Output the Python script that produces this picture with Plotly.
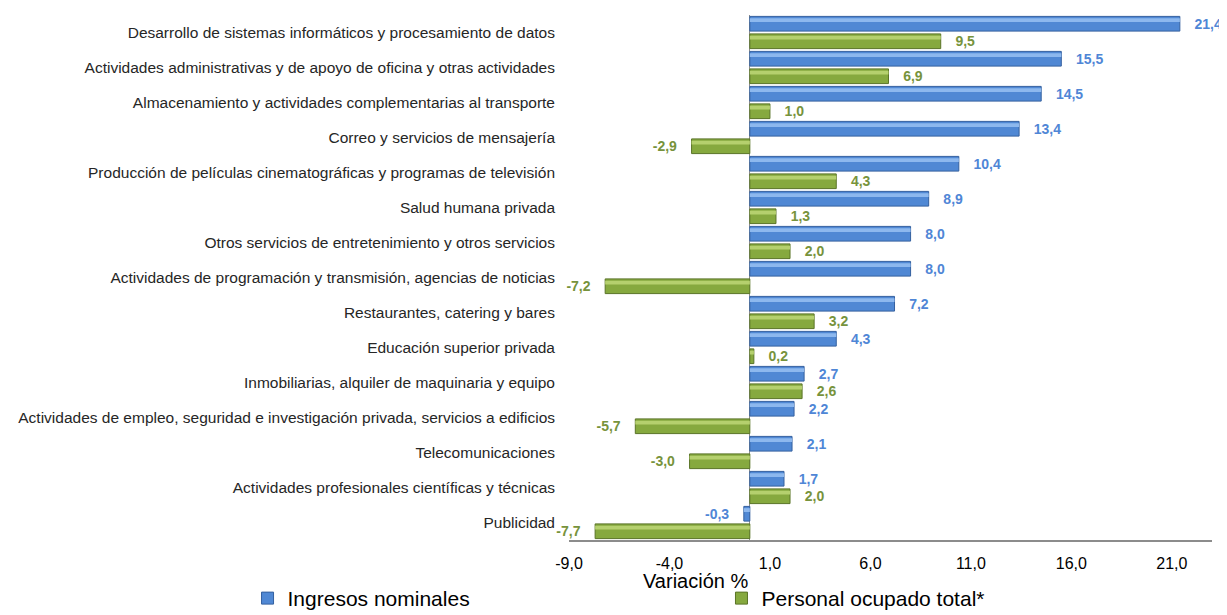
import plotly.graph_objects as go

categories = [
    "Desarrollo de sistemas informáticos y procesamiento de datos",
    "Actividades administrativas y de apoyo de oficina y otras actividades",
    "Almacenamiento y actividades complementarias al transporte",
    "Correo y servicios de mensajería",
    "Producción de películas cinematográficas y programas de televisión",
    "Salud humana privada",
    "Otros servicios de entretenimiento y otros servicios",
    "Actividades de programación y transmisión, agencias de noticias",
    "Restaurantes, catering y bares",
    "Educación superior privada",
    "Inmobiliarias, alquiler de maquinaria y equipo",
    "Actividades de empleo, seguridad e investigación privada, servicios a edificios",
    "Telecomunicaciones",
    "Actividades profesionales científicas y técnicas",
    "Publicidad",
]
ingresos = [21.4, 15.5, 14.5, 13.4, 10.4, 8.9, 8.0, 8.0, 7.2, 4.3, 2.7, 2.2, 2.1, 1.7, -0.3]
personal = [9.5, 6.9, 1.0, -2.9, 4.3, 1.3, 2.0, -7.2, 3.2, 0.2, 2.6, -5.7, -3.0, 2.0, -7.7]
tick_values = [-9, -4, 1, 6, 11, 16, 21]
tick_labels = [f"{v:.1f}".replace(".", ",") for v in tick_values]

BLUE = "#5088D4"
BLUE_HI = "#8DB8EE"
BLUE_EDGE = "#34609F"
BLUE_TXT = "#4F86D6"
GREEN = "#86A93F"
GREEN_HI = "#B5D06E"
GREEN_EDGE = "#5A7427"
GREEN_TXT = "#77933C"

FONT = "Liberation Sans, Arial"


def templ(vals):
    return ["   %{x:.1f}" if v >= 0 else "%{x:.1f}   " for v in vals]


fig = go.Figure()
# main bars
fig.add_trace(go.Bar(
    y=categories, x=ingresos, orientation="h", name="Ingresos nominales",
    offset=-0.46, width=0.42, legend="legend",
    marker=dict(color=BLUE, line=dict(color=BLUE_EDGE, width=1)),
    texttemplate=templ(ingresos), textposition="outside", constraintext="none",
    cliponaxis=False,
    textfont=dict(family=FONT, size=14, color=BLUE_TXT, weight="bold"),
))
fig.add_trace(go.Bar(
    y=categories, x=personal, orientation="h", name="Personal ocupado total*",
    offset=0.04, width=0.42, legend="legend2",
    marker=dict(color=GREEN, line=dict(color=GREEN_EDGE, width=1)),
    texttemplate=templ(personal), textposition="outside", constraintext="none",
    cliponaxis=False,
    textfont=dict(family=FONT, size=14, color=GREEN_TXT, weight="bold"),
))
# highlight stripes (bevel look)
fig.add_trace(go.Bar(
    y=categories, x=ingresos, orientation="h", showlegend=False, hoverinfo="skip",
    offset=-0.41, width=0.11, marker=dict(color=BLUE_HI, line=dict(width=0)),
))
fig.add_trace(go.Bar(
    y=categories, x=personal, orientation="h", showlegend=False, hoverinfo="skip",
    offset=0.09, width=0.11, marker=dict(color=GREEN_HI, line=dict(width=0)),
))

legend_font = dict(family=FONT, size=21, color="#000000")

fig.update_layout(
    width=1219, height=607,
    margin=dict(l=561, r=15, t=7, b=75),
    paper_bgcolor="white", plot_bgcolor="white",
    barmode="overlay",
    separators=", ",
    font=dict(family=FONT, color="#000000"),
    xaxis=dict(
        range=[-9, 23], tickvals=tick_values, ticktext=tick_labels,
        showgrid=False, zeroline=True, zerolinecolor="#8C8C8C", zerolinewidth=1,
        showline=True, linecolor="#8C8C8C", linewidth=1.5,
        ticks="", ticklabelstandoff=8, tickfont=dict(size=16, color="#000000"),
        automargin=False,
    ),
    yaxis=dict(
        autorange="reversed", showgrid=False, showline=False, ticks="",
        ticklabelstandoff=13, automargin=False,
        tickfont=dict(size=15.5, color="#262626"),
    ),
    legend=dict(
        orientation="h", xref="container", x=0.1965, xanchor="left",
        yref="container", y=0.061, yanchor="top",
        font=legend_font, itemwidth=30,
    ),
    legend2=dict(
        orientation="h", xref="container", x=0.5853, xanchor="left",
        yref="container", y=0.061, yanchor="top",
        font=legend_font, itemwidth=30,
    ),
    annotations=[dict(
        text="Variación %", xref="paper", yref="paper", x=0.196, y=-0.078,
        xanchor="center", yanchor="middle", showarrow=False,
        font=dict(family=FONT, size=20, color="#000000"),
    )],
)

fig.write_html("out.html")
